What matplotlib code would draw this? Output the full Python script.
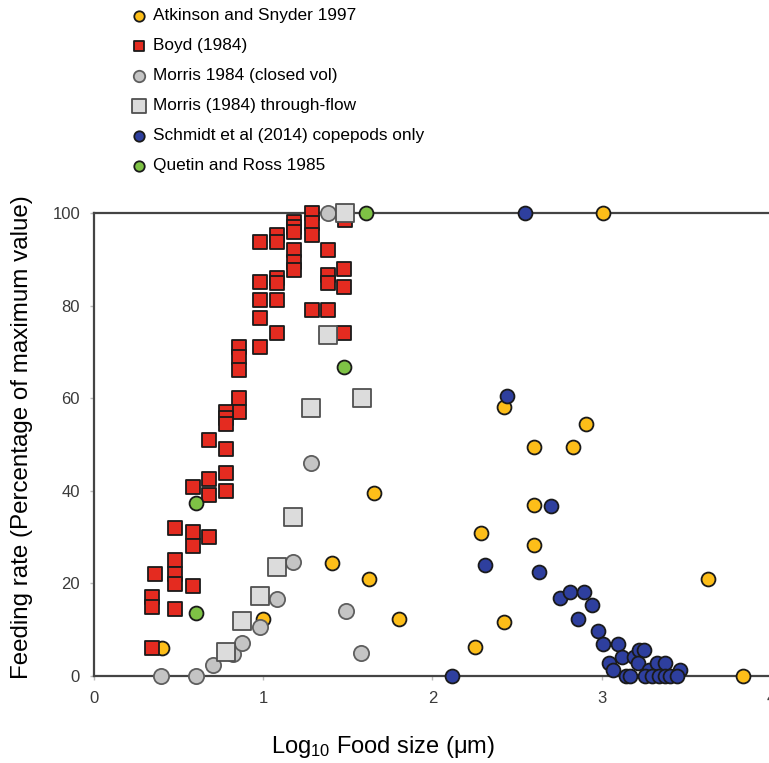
import matplotlib
matplotlib.use("Agg")
import matplotlib.pyplot as plt

plt.rcParams['font.family'] = ['Liberation Sans', 'DejaVu Sans']
plt.rcParams['mathtext.default'] = 'regular'

# Atkinson and Snyder 1997
atk_x = [0.40, 1.00, 1.405, 1.655, 1.627, 1.805, 2.252, 2.285, 2.425, 2.425,
         2.602, 2.602, 2.602, 2.833, 2.906, 3.006, 3.627, 3.837]
atk_y = [6.0, 12.4, 24.5, 39.5, 21.0, 12.3, 6.3, 30.8, 11.7, 58.0,
         49.4, 36.9, 28.4, 49.4, 54.4, 100.0, 20.9, 0.0]

# Boyd (1984)
boyd_x = [1.287, 1.287, 1.287, 1.184, 1.184, 1.184, 1.184, 1.184, 1.184,
          1.083, 1.083, 0.981, 1.083, 1.083, 0.981, 0.981, 1.083, 0.981,
          1.083, 0.981, 0.859, 0.859, 0.859, 0.859, 0.859, 0.78, 0.78, 0.78,
          0.681, 0.78, 0.78, 0.681, 0.583, 0.78, 0.681, 0.479, 0.583, 0.681,
          0.583, 0.479, 0.362, 0.479, 0.479, 0.583, 0.341, 0.341, 0.479, 0.341,
          1.381, 1.479, 1.381, 1.381, 1.479, 1.287, 1.381, 1.479, 1.483]
boyd_y = [100.0, 97.9, 95.2, 98.1, 97.0, 96.0, 92.0, 89.5, 87.7,
          95.2, 93.8, 93.8, 85.9, 84.8, 85.2, 81.2, 81.2, 77.3,
          74.0, 71.1, 71.1, 69.0, 66.1, 60.0, 57.1, 57.1, 55.7, 54.4,
          51.0, 49.0, 43.9, 42.5, 40.9, 40.0, 39.1, 32.0, 31.0, 30.0,
          28.1, 25.0, 22.0, 22.0, 19.9, 19.4, 17.1, 15.0, 14.5, 6.0,
          92.0, 88.0, 86.6, 84.8, 84.0, 79.0, 79.0, 74.0, 98.5]

# Morris 1984 (closed vol)
mc_x = [0.396, 0.603, 0.702, 0.82, 0.876, 0.981, 1.08, 1.178, 1.281, 1.488, 1.578, 1.385]
mc_y = [0.0, 0.0, 2.4, 4.8, 7.1, 10.6, 16.6, 24.7, 45.9, 14.1, 4.9, 100.0]

# Morris (1984) through-flow
mt_x = [0.778, 0.876, 0.981, 1.083, 1.178, 1.281, 1.381, 1.582, 1.483]
mt_y = [5.1, 11.9, 17.3, 23.5, 34.4, 57.8, 73.7, 60.0, 100.0]

# Schmidt et al (2014) copepods only
sch_x = [2.114, 2.311, 2.443, 2.547, 2.63, 2.699, 2.754, 2.813, 2.898, 2.942,
         2.863, 2.978, 3.007, 3.096, 3.12, 3.041, 3.067, 3.189, 3.219, 3.248,
         3.213, 3.144, 3.168, 3.278, 3.327, 3.373, 3.466, 3.258, 3.298, 3.337,
         3.377, 3.407, 3.446]
sch_y = [0.0, 23.9, 60.5, 100.0, 22.5, 36.7, 16.9, 18.2, 18.2, 15.4,
         12.4, 9.7, 7.0, 7.0, 4.0, 2.8, 1.2, 4.1, 5.7, 5.7,
         2.8, 0.0, 0.0, 1.2, 2.8, 2.8, 1.2, 0.0, 0.0, 0.0,
         0.0, 0.0, 0.0]

# Quetin and Ross 1985
qr_x = [0.603, 0.603, 1.479, 1.608]
qr_y = [37.3, 13.5, 66.8, 100.0]

fig = plt.figure(figsize=(7.69, 7.63), dpi=100)
ax = fig.add_axes([94 / 769, 87 / 763, (770.8 - 94) / 769, 463 / 763])

ax.scatter(atk_x, atk_y, s=100, c='#FDBE19', edgecolors='#1a1a1a', linewidths=1.3,
           marker='o', label='Atkinson and Snyder 1997', clip_on=False, zorder=3)
ax.scatter(boyd_x, boyd_y, s=100, c='#E42B20', edgecolors='#1a1a1a', linewidths=1.3,
           marker='s', label='Boyd (1984)', clip_on=False, zorder=3)
ax.scatter(mc_x, mc_y, s=120, c='#C4C4C4', edgecolors='#5e5e5e', linewidths=1.3,
           marker='o', label='Morris 1984 (closed vol)', clip_on=False, zorder=3)
ax.scatter(mt_x, mt_y, s=170, c='#DCDCDC', edgecolors='#505050', linewidths=1.3,
           marker='s', label='Morris (1984) through-flow', clip_on=False, zorder=3)
ax.scatter(sch_x, sch_y, s=100, c='#2E3F9E', edgecolors='#1a1a1a', linewidths=1.3,
           marker='o', label='Schmidt et al (2014) copepods only', clip_on=False, zorder=3)
ax.scatter(qr_x, qr_y, s=100, c='#7EC245', edgecolors='#1a1a1a', linewidths=1.3,
           marker='o', label='Quetin and Ross 1985', clip_on=False, zorder=3)

ax.set_xlim(0, 4)
ax.set_ylim(0, 100)
ax.set_xticks([0, 1, 2, 3, 4])
ax.set_yticks([0, 20, 40, 60, 80, 100])

for side in ['left', 'bottom', 'top']:
    ax.spines[side].set_color('#444444')
    ax.spines[side].set_linewidth(1.6)
ax.spines['right'].set_visible(False)

ax.tick_params(axis='both', length=3, width=1, color='#bbbbbb', labelsize=12,
               labelcolor='#3a3a3a')
ax.tick_params(axis='y', pad=7)
ax.tick_params(axis='x', pad=8)

ax.set_ylabel('Feeding rate (Percentage of maximum value)', fontsize=17.4)
ax.yaxis.set_label_coords(-0.09, 0.516)
ax.set_xlabel('Log$_{10}$ Food size (μm)', fontsize=17)
ax.xaxis.set_label_coords(0.427, -0.125)

fig.legend(loc='upper left', bbox_to_anchor=(133 / 769, 1 - 8 / 763), frameon=False,
           fontsize=12.4, markerscale=0.75, handlelength=0.7, handletextpad=0.45,
           labelspacing=0.87, borderpad=0, borderaxespad=0)

fig.savefig('out.png', dpi=100)
